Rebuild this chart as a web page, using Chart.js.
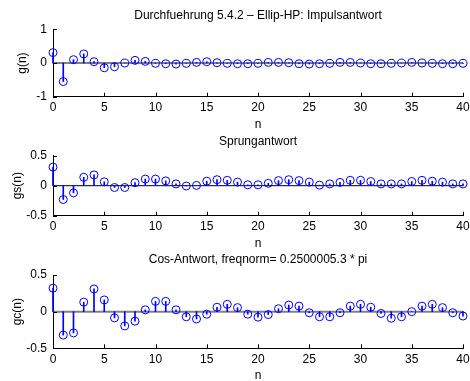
<!DOCTYPE html>
<html>
<head>
<meta charset="utf-8">
<script src="https://cdn.jsdelivr.net/npm/chart.js@4"></script>
<style>
    body { margin: 0; background: #fff; overflow: hidden; }
    #box { position: relative; width: 470px; height: 381px; }
    canvas { position: absolute; left: 0; }
</style>
</head>
<body>
<div id="box">
    <canvas id="impuls" width="470" height="132" style="top:0px"></canvas>
    <canvas id="sprung" width="470" height="123" style="top:128px"></canvas>
    <canvas id="cosinus" width="470" height="133" style="top:250px"></canvas>
</div>
<script>
let n = [0,1,2,3,4,5,6,7,8,9,10,11,12,13,14,15,16,17,18,19,20,
         21,22,23,24,25,26,27,28,29,30,31,32,33,34,35,36,37,38,39,40];

let g = [0.31,-0.55,0.10,0.27,0.04,-0.14,-0.11,0.00,0.08,0.05,-0.01,
         -0.02,-0.03,-0.01,0.02,0.04,0.01,-0.01,-0.02,-0.02,-0.01,
         0.02,0.02,0.01,-0.02,-0.03,-0.02,-0.01,0.02,0.02,0.00,
         -0.02,-0.02,-0.01,0.00,0.02,0.00,-0.01,-0.02,-0.02,-0.01];

let gs = [0.31,-0.23,-0.12,0.14,0.18,0.065,-0.03,-0.03,0.05,0.11,0.11,
          0.08,0.03,-0.005,0.005,0.075,0.10,0.09,0.06,0.015,0.015,
          0.04,0.085,0.10,0.085,0.06,0.01,0.03,0.055,0.09,0.09,
          0.07,0.03,0.03,0.03,0.07,0.09,0.075,0.06,0.03,0.03];

let gc = [0.32,-0.32,-0.29,0.13,0.31,0.16,-0.085,-0.195,-0.13,0.025,0.14,
          0.14,0.025,-0.07,-0.10,-0.035,0.06,0.10,0.055,-0.035,-0.075,
          -0.04,0.04,0.09,0.075,-0.015,-0.07,-0.07,-0.015,0.075,0.10,
          0.06,-0.025,-0.09,-0.07,0.00,0.075,0.10,0.055,-0.015,-0.06];

let xTicks = [0,5,10,15,20,25,30,35,40];
let yTicksG = [-1,0,1];
let yTicksHalb = [-0.5,0,0.5];

Chart.defaults.font.family = "'Liberation Sans', Arial, sans-serif";
Chart.defaults.color = "#000";

// kleine Striche nach innen, wie bei MATLAB
const innenTicks = {
    id: "innenTicks",
    afterDatasetsDraw(chart) {
        const {ctx, chartArea, scales} = chart;
        ctx.save();
        ctx.strokeStyle = "#000";
        ctx.lineWidth = 1;
        ctx.beginPath();
        scales.x.ticks.forEach(t => {
            let px = Math.round(scales.x.getPixelForValue(t.value)) + 0.5;
            ctx.moveTo(px, chartArea.bottom);
            ctx.lineTo(px, chartArea.bottom - 4);
        });
        scales.y.ticks.forEach(t => {
            let py = Math.round(scales.y.getPixelForValue(t.value)) + 0.5;
            ctx.moveTo(chartArea.left, py);
            ctx.lineTo(chartArea.left + 4, py);
        });
        ctx.stroke();
        ctx.restore();
    }
};

function stemPlot(id, werte, titel, ylabel, yTicks, opts) {
    let punkte = n.map((x, i) => ({x: x, y: werte[i]}));
    let ymin = yTicks[0];
    let ymax = yTicks[yTicks.length - 1];

    new Chart(id, {
        type: "bar",
        data: {
            datasets: [
                {
                    type: "line",
                    data: [{x: n[0], y: 0}, {x: n[n.length - 1], y: 0}],
                    borderColor: opts.nullFarbe,
                    borderWidth: opts.nullBreite,
                    pointRadius: 0,
                    clip: false,
                    order: 3
                },
                {
                    type: "bar",
                    data: punkte,
                    backgroundColor: "#0000ff",
                    borderWidth: 0,
                    barThickness: 1,
                    clip: false,
                    order: 2
                },
                {
                    type: "line",
                    data: punkte,
                    showLine: false,
                    pointStyle: "circle",
                    pointRadius: 4,
                    pointBorderWidth: 1,
                    pointBorderColor: "#0000ff",
                    pointBackgroundColor: "rgba(0,0,0,0)",
                    clip: false,
                    order: 1
                }
            ]
        },
        options: {
            responsive: false,
            animation: false,
            devicePixelRatio: 1,
            layout: {padding: {left: 0, right: 0, top: 0, bottom: 0}},
            plugins: {
                legend: {display: false},
                tooltip: {enabled: false},
                title: {
                    display: true,
                    text: titel,
                    fullSize: false,
                    color: "#000",
                    font: {size: 12, weight: "normal"},
                    padding: {top: opts.titelOben, bottom: opts.titelUnten}
                }
            },
            scales: {
                x: {
                    type: "linear",
                    min: 0,
                    max: 40,
                    offset: false,
                    grid: {display: false, drawTicks: false},
                    border: {display: true, color: "#000", width: 1},
                    afterBuildTicks: s => { s.ticks = xTicks.map(v => ({value: v})); },
                    ticks: {font: {size: 12}, padding: 4, maxRotation: 0},
                    title: {display: true, text: "n", font: {size: 12}, padding: {top: 0, bottom: opts.nUnten}},
                    afterFit: s => { s.height = opts.xHoehe; s.paddingRight = 7; }
                },
                y: {
                    min: ymin,
                    max: ymax,
                    grid: {display: false, drawTicks: false},
                    border: {display: true, color: "#000", width: 1},
                    afterBuildTicks: s => { s.ticks = yTicks.map(v => ({value: v})); },
                    ticks: {font: {size: 12}, padding: 6},
                    title: {display: true, text: ylabel, font: {size: 12}, padding: {top: opts.yLinks, bottom: 0}},
                    afterFit: s => { s.width = 53; }
                }
            }
        },
        plugins: [innenTicks]
    });
}

stemPlot("impuls", g, "Durchfuehrung 5.4.2 \u2013 Ellip-HP: Impulsantwort", "g(n)", yTicksG,
    {nullFarbe: "#808080", nullBreite: 2, titelOben: 8, titelUnten: 7, nUnten: 0, xHoehe: 35.3, yLinks: 15.5});

stemPlot("sprung", gs, "Sprungantwort", "gs(n)", yTicksHalb,
    {nullFarbe: "#000", nullBreite: 1, titelOben: 6.5, titelUnten: 6.8, nUnten: 0, xHoehe: 35.3, yLinks: 10});

stemPlot("cosinus", gc, "Cos-Antwort, freqnorm= 0.2500005.3 * pi", "gc(n)", yTicksHalb,
    {nullFarbe: "#808080", nullBreite: 2, titelOben: 2.1, titelUnten: 8.5, nUnten: 0, xHoehe: 34.7, yLinks: 10});
</script>
</body>
</html>
